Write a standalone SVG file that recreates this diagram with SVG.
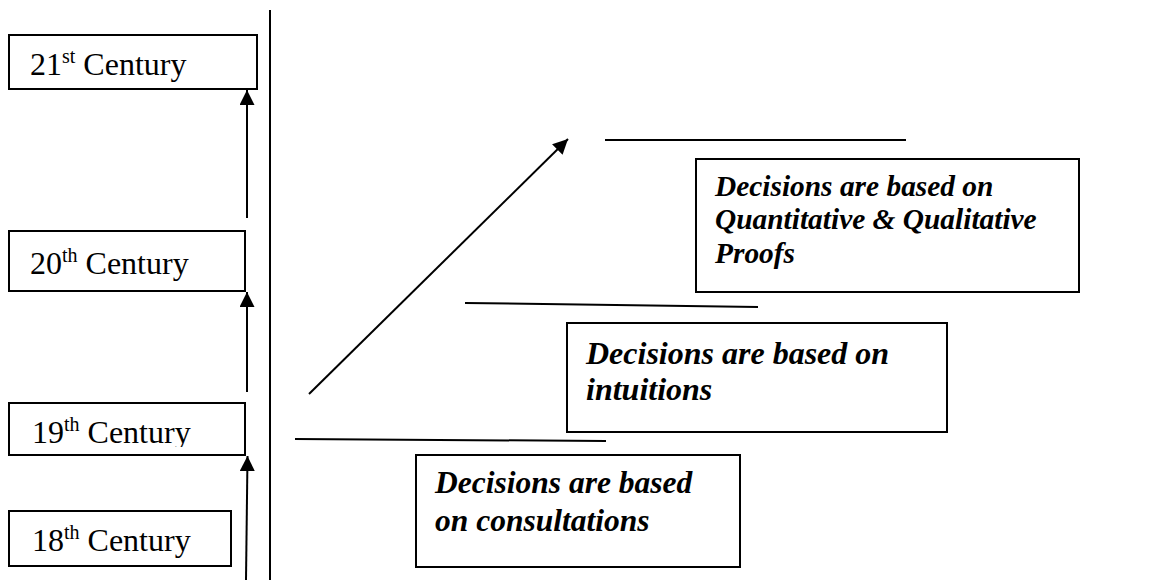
<svg xmlns="http://www.w3.org/2000/svg" width="1152" height="580" viewBox="0 0 1152 580">
<defs>
<style>
.box{fill:#fff;stroke:#000;stroke-width:2}
.ln{stroke:#000;stroke-width:2;fill:none}
.cen{font-family:"Liberation Serif","Times New Roman",serif;font-size:32px;fill:#000}
.sup{font-size:20px}
.dec{font-family:"Liberation Serif","Times New Roman",serif;font-weight:bold;font-style:italic;fill:#000}
</style>
<marker id="ah" viewBox="0 0 10 10" refX="10" refY="5" markerWidth="7.5" markerHeight="7.5" orient="auto" markerUnits="strokeWidth">
<path d="M0,0 L10,5 L0,10 z" fill="#000"/>
</marker>
<clipPath id="c19"><rect x="9" y="403" width="237" height="44"/></clipPath>
</defs>
<rect width="1152" height="580" fill="#fff"/>
<g id="n21">
<rect class="box" x="9" y="35" width="248" height="54"/>
<text class="cen" x="30" y="75">21<tspan class="sup" dy="-12">st</tspan><tspan dy="12"> Century</tspan></text>
</g>
<g id="n20">
<rect class="box" x="9" y="231" width="236" height="60"/>
<text class="cen" x="30" y="274">20<tspan class="sup" dy="-12">th</tspan><tspan dy="12"> Century</tspan></text>
</g>
<g id="n19">
<rect class="box" x="9" y="403" width="236" height="52"/>
<text class="cen" x="32" y="443" clip-path="url(#c19)">19<tspan class="sup" dy="-12">th</tspan><tspan dy="12"> Century</tspan></text>
</g>
<g id="n18">
<rect class="box" x="9" y="511" width="222" height="55"/>
<text class="cen" x="32" y="551">18<tspan class="sup" dy="-12">th</tspan><tspan dy="12"> Century</tspan></text>
</g>
<g id="nQ">
<rect class="box" x="696" y="159" width="383" height="133"/>
<text class="dec" font-size="29.4"><tspan x="715" y="196">Decisions are based on</tspan><tspan x="715" y="229">Quantitative &amp; Qualitative</tspan><tspan x="715" y="263">Proofs</tspan></text>
</g>
<g id="nI">
<rect class="box" x="567" y="323" width="380" height="109"/>
<text class="dec" font-size="32"><tspan x="586" y="364">Decisions are based on</tspan><tspan x="586" y="400">intuitions</tspan></text>
</g>
<g id="nC">
<rect class="box" x="416" y="455" width="324" height="112"/>
<text class="dec" font-size="31.5"><tspan x="435" y="493">Decisions are based</tspan><tspan x="435" y="531">on consultations</tspan></text>
</g>
<g id="connectors">
<line class="ln" x1="270" y1="10" x2="270" y2="580"/>
<line class="ln" x1="247" y1="218" x2="247" y2="90" marker-end="url(#ah)"/>
<line class="ln" x1="247" y1="392" x2="247" y2="292" marker-end="url(#ah)"/>
<line class="ln" x1="246" y1="580" x2="247.5" y2="456" marker-end="url(#ah)"/>
<line class="ln" x1="309" y1="394" x2="568" y2="139" marker-end="url(#ah)"/>
<line class="ln" x1="605" y1="140" x2="906" y2="140"/>
<line class="ln" x1="465" y1="303" x2="758" y2="307"/>
<line class="ln" x1="295" y1="439" x2="606" y2="441"/>
</g>
</svg>
